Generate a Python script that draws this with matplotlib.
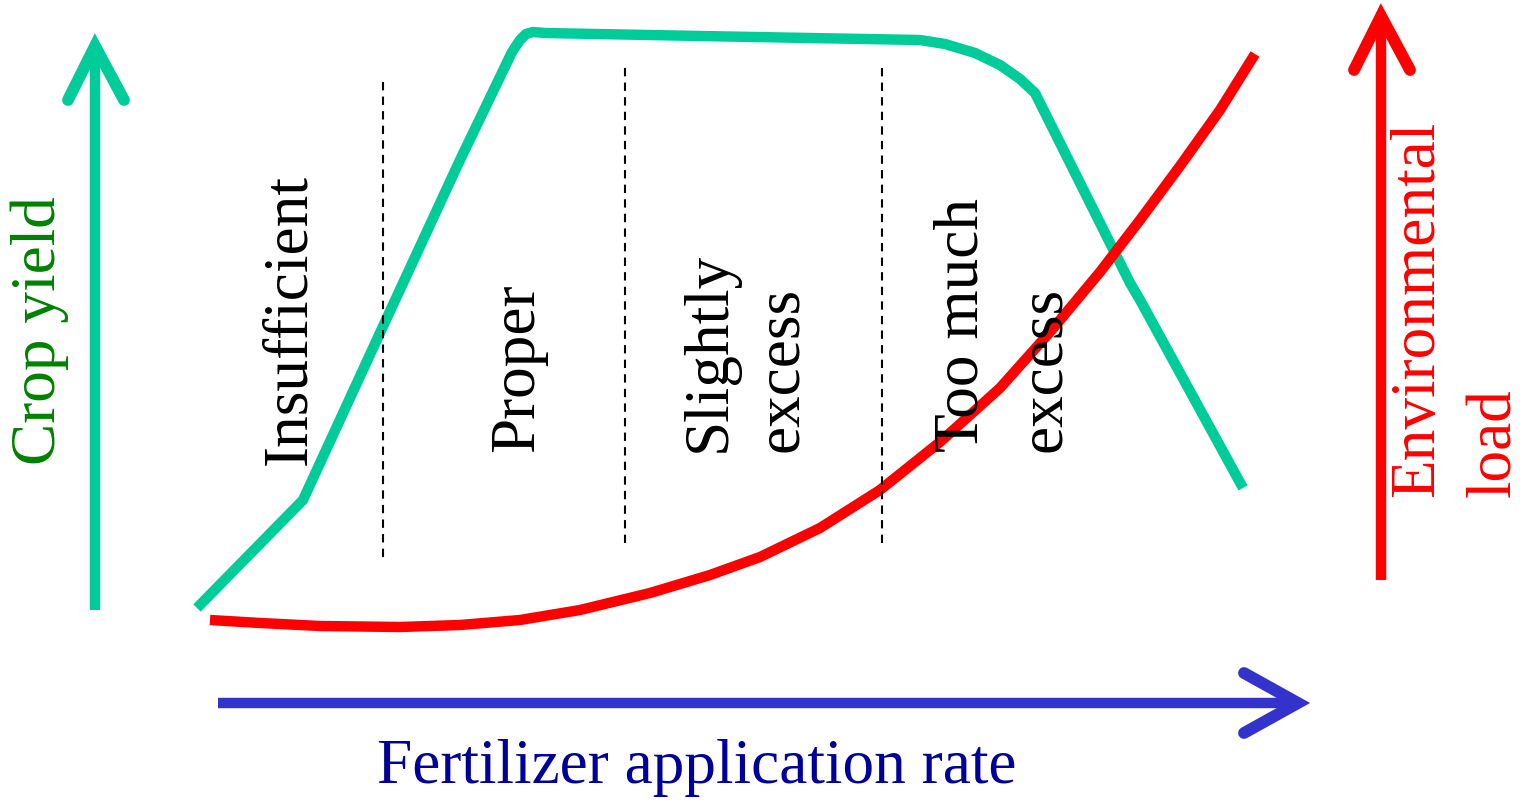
import matplotlib.pyplot as plt

# schematic: fertilizer rate vs crop yield / environmental load
# coordinates (pixel space, y goes down)
yield_x = [197, 303, 385, 460, 512, 520, 526, 533, 545, 700, 920, 945, 975, 1000, 1020, 1035, 1130, 1140, 1243]
yield_y = [608, 500, 322, 160, 52, 40, 34, 32, 33, 36, 40, 44, 53, 65, 79, 93, 283, 300, 488]

load_x = [210, 260, 320, 400, 460, 520, 580, 650, 710, 760, 820, 880, 940, 1000, 1050, 1100, 1140, 1180, 1220, 1255]
load_y = [620, 623, 626, 627, 625, 620, 610, 593, 575, 557, 528, 490, 442, 388, 332, 272, 220, 166, 110, 54]

divider_x = [383, 625, 882]
divider_top = [82, 68, 68]
divider_bottom = [558, 545, 545]

zone_labels = [
    ("Insufficient", 290, 465),
    ("Proper", 518, 452),
    ("Slightly", 710, 452),
    ("excess", 782, 452),
    ("Too much", 963, 452),
    ("excess", 1045, 452),
]

GREEN = "#00cc99"
RED = "#ff0000"
BLUE = "#3333cc"

plt.rcParams['font.family'] = ['Liberation Serif', 'DejaVu Serif']

fig = plt.figure(figsize=(15.22, 8.02), dpi=100)
ax = fig.add_axes([0, 0, 1, 1])
ax.set_xlim(0, 1522)
ax.set_ylim(802, 0)
ax.axis('off')

lw = 7.5

# curves
ax.plot(yield_x, yield_y, color=GREEN, lw=lw, solid_capstyle='butt', solid_joinstyle='round')
ax.plot(load_x, load_y, color=RED, lw=lw, solid_capstyle='butt', solid_joinstyle='round')

# dashed dividers
for x, t, b in zip(divider_x, divider_top, divider_bottom):
    ax.plot([x, x], [t, b], color='black', lw=1.5, ls=(0, (4, 3)))

# arrows (shaft + open chevron head)
def arrow(x0, y0, x1, y1, h1, h2, color):
    ax.plot([x0, x1], [y0, y1], color=color, lw=lw, solid_capstyle='butt')
    ax.plot([h1[0], x1, h2[0]], [h1[1], y1, h2[1]], color=color, lw=lw + 1,
            solid_capstyle='round', solid_joinstyle='miter')

arrow(95, 610, 95, 46, (68, 100), (124, 100), GREEN)
arrow(1381, 580, 1381, 16, (1354, 70), (1410, 70), RED)
arrow(218, 703, 1298, 703, (1244, 673), (1244, 733), BLUE)

fs = 45.5
for txt, x, y in zone_labels:
    ax.text(x, y, txt, rotation=90, ha='center', va='bottom', fontsize=fs, color='black')

ax.text(40, 465, "Crop yield", rotation=90, ha='center', va='bottom', fontsize=fs, color='#008000')
ax.text(1418, 497, "Environmental", rotation=90, ha='center', va='bottom', fontsize=fs, color=RED)
ax.text(1495, 497, "load", rotation=90, ha='center', va='bottom', fontsize=fs, color=RED)
ax.text(697, 768, "Fertilizer application rate", ha='center', va='center', fontsize=fs, color='#000099')

fig.savefig('out.png', dpi=100)
